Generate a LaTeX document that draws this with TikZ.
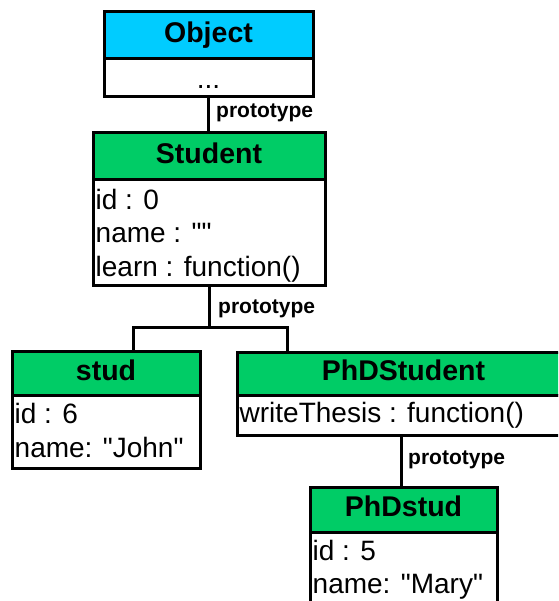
\documentclass[tikz,border=0pt]{standalone}
\usepackage{fontspec}
\setmainfont{Liberation Sans}
\newfontfamily\plainsans{Liberation Sans}
\definecolor{objcyan}{HTML}{00CCFF}
\definecolor{clsgreen}{HTML}{00CC66}
\begin{document}
\begin{tikzpicture}[x=1pt,y=-1pt,
  box/.style={draw=black, line width=3pt, rectangle, inner sep=0pt, outer sep=0pt, anchor=north west},
  hdr/.style={box, font=\fontsize{28.5}{30}\selectfont\bfseries, text height=20pt, text depth=6pt},
  bodybox/.style={box, fill=white},
  field/.style={anchor=base west, inner sep=0pt, font=\plainsans\fontsize{28}{33}\selectfont},
  proto/.style={anchor=base west, inner sep=0pt, font=\fontsize{21}{22}\selectfont\bfseries},
  conn/.style={draw=black, line width=3pt, line join=miter}]
\useasboundingbox (0,0) rectangle (558,601);
\clip (0,0) rectangle (558,601);
\fill[white] (0,0) rectangle (558,601);

% Object
\node[hdr, fill=objcyan, minimum width=209pt, minimum height=47pt] (objh) at (104,12) {Object};
\node[bodybox, minimum width=209pt, minimum height=38pt] (objb) at (objh.south west) {};
\node[anchor=base, inner sep=0pt, font=\fontsize{28}{33}\selectfont] (objdots) at (208.5,89) {...};

% Student
\node[hdr, fill=clsgreen, minimum width=232pt, minimum height=47pt] (stuh) at (93,133) {Student};
\node[bodybox, minimum width=232pt, minimum height=105pt] (stub) at (stuh.south west) {};
\node[field] (stu1) at (95.5,210) {id : 0};
\node[field] (stu2) at (95.5,243) {name : ""};
\node[field] (stu3) at (95.5,276) {learn : function()};

% stud
\node[hdr, fill=clsgreen, minimum width=188pt, minimum height=44pt] (studh) at (12,351) {stud};
\node[bodybox, minimum width=188pt, minimum height=73pt] (studb) at (studh.south west) {};
\node[field] (stud1) at (14.5,423) {id : 6};
\node[field] (stud2) at (14.5,457) {name: "John"};

% PhDStudent
\node[hdr, fill=clsgreen, minimum width=333pt, minimum height=43pt] (phdh) at (237,352) {PhDStudent};
\node[bodybox, minimum width=333pt, minimum height=40pt] (phdb) at (phdh.south west) {};
\node[field] (phd1) at (239.5,422) {writeThesis : function()};

% PhDstud
\node[hdr, fill=clsgreen, minimum width=187pt, minimum height=45pt] (phdsh) at (310,487) {PhDstud};
\node[bodybox, minimum width=187pt, minimum height=110pt] (phdsb) at (phdsh.south west) {};
\node[field] (phds1) at (312.5,560) {id : 5};
\node[field] (phds2) at (312.5,593) {name: "Mary"};

% connectors
\draw[conn] (objb.south) -- (objb.south |- stuh.north);
\node[proto] (p1) at (216,118) {prototype};

\coordinate (ja) at (133,327);
\coordinate (jb) at (287,327);
\draw[conn] (stub.south) -- (stub.south |- ja);
\draw[conn] (studh.north -| ja) |- (jb) -- (phdh.north -| jb);
\node[proto] (p2) at (218,313) {prototype};

\coordinate (jc) at (401,460);
\draw[conn] (phdb.south -| jc) -- (phdsh.north -| jc);
\node[proto] (p3) at (408,464) {prototype};
\end{tikzpicture}
\end{document}
